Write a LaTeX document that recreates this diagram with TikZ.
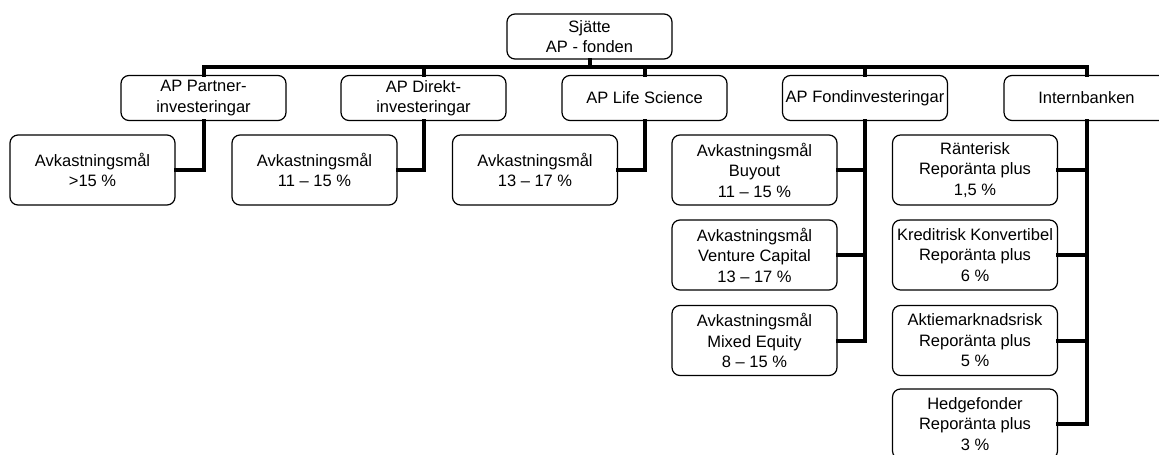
\documentclass[tikz,border=0pt]{standalone}
\usepackage{fontspec}
\setmainfont{Liberation Sans}
\begin{document}
\begin{tikzpicture}[x=1pt,y=-1pt,
  box/.style={draw=black,line width=1.2pt,rounded corners=8pt,fill=white,align=center,
    minimum width=165pt,inner sep=1pt,font=\fontsize{16.5}{20.5}\selectfont},
  boxa/.style={box,minimum height=45pt},
  boxb/.style={box,minimum height=70pt},
  conn/.style={line width=4pt,line cap=rect}]
\useasboundingbox (0,0) rectangle (1159,455);
\clip (0,0) rectangle (1159,455);
\coordinate (bus) at (590,67);
% connectors first (behind boxes)
\node[boxa] (top) at (589.5,36.5) {Sjätte\\AP - fonden};
\node[boxa] (p1) at (203.5,98) {AP Partner-\\investeringar};
\node[boxa] (p2) at (423.5,98) {AP Direkt-\\investeringar};
\node[boxa] (p3) at (644.5,98) {AP Life Science};
\node[boxa] (p4) at (865,98) {AP Fondinvesteringar};
\node[boxa] (p5) at (1086.5,98) {Internbanken};
\node[boxb] (c1) at (92.5,170) {Avkastningsmål\\>15 \%};
\node[boxb] (c2) at (314.5,170) {Avkastningsmål\\11 – 15 \%};
\node[boxb] (c3) at (535,170) {Avkastningsmål\\13 – 17 \%};
\node[boxb] (f1) at (754.5,170) {Avkastningsmål\\Buyout\\11 – 15 \%};
\node[boxb] (f2) at (754.5,255) {Avkastningsmål\\Venture Capital\\13 – 17 \%};
\node[boxb] (f3) at (754.5,340.5) {Avkastningsmål\\Mixed Equity\\8 – 15 \%};
\node[boxb] (i1) at (975,170) {Ränterisk\\Reporänta plus\\1,5 \%};
\node[boxb] (i2) at (975,255) {Kreditrisk Konvertibel\\Reporänta plus\\6 \%};
\node[boxb] (i3) at (975,340.5) {Aktiemarknadsrisk\\Reporänta plus\\5 \%};
\node[boxb] (i4) at (975,424) {Hedgefonder\\Reporänta plus\\3 \%};
\begin{scope}[conn]
\draw (top.south) -- (top.south|-bus) -| (p1.north);
\draw (top.south) -- (top.south|-bus) -| (p2.north);
\draw (top.south) -- (top.south|-bus) -| (p3.north);
\draw (top.south) -- (top.south|-bus) -| (p4.north);
\draw (top.south) -- (top.south|-bus) -| (p5.north);
\draw (p1.south) |- (c1.east);
\draw (p2.south) |- (c2.east);
\draw (p3.south) |- (c3.east);
\draw (p4.south) |- (f1.east);
\draw (p4.south) |- (f2.east);
\draw (p4.south) |- (f3.east);
\draw (p5.south) |- (i1.east);
\draw (p5.south) |- (i2.east);
\draw (p5.south) |- (i3.east);
\draw (p5.south) |- (i4.east);
\end{scope}
\end{tikzpicture}
\end{document}
